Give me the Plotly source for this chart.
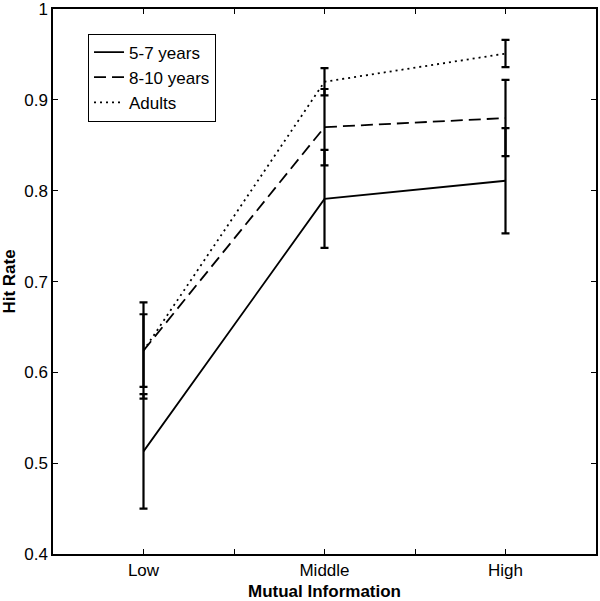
import plotly.graph_objects as go

categories = ["Low", "Middle", "High"]
x_pos = [1, 2, 3]
series_names = ["5-7 years", "8-10 years", "Adults"]
hit_5_7 = [0.513, 0.791, 0.811]
err_5_7 = [0.063, 0.054, 0.058]
hit_8_10 = [0.624, 0.870, 0.880]
err_8_10 = [0.053, 0.042, 0.042]
hit_adults = [0.624, 0.920, 0.951]
err_adults = [0.040, 0.015, 0.015]
dashes = ["solid", "12px,6px", "2px,4px"]

y_ticks = [0.4, 0.5, 0.6, 0.7, 0.8, 0.9, 1.0]
y_ticklabels = ["0.4", "0.5", "0.6", "0.7", "0.8", "0.9", "1"]
x_ticks = [1, 1.5, 2, 2.5, 3]
x_ticklabels = ["Low", "", "Middle", "", "High"]

fig = go.Figure()
for name, ys, es, d in zip(series_names, [hit_5_7, hit_8_10, hit_adults],
                           [err_5_7, err_8_10, err_adults], dashes):
    fig.add_trace(go.Scatter(
        x=x_pos, y=ys, name=name, mode="lines",
        line=dict(color="black", width=1.8, dash=d),
        error_y=dict(type="data", array=es, visible=True, color="black",
                     thickness=2.2, width=4),
    ))

font = "Liberation Sans, Arial, sans-serif"
fig.update_layout(
    width=600, height=601,
    margin=dict(l=53, r=4, t=9, b=47),
    plot_bgcolor="white", paper_bgcolor="white",
    font=dict(family=font, size=17, color="black"),
    showlegend=True,
    legend=dict(x=0.0645, y=0.955, xanchor="left", yanchor="top",
                bordercolor="black", borderwidth=1, bgcolor="white",
                font=dict(size=17, family=font), tracegroupgap=0,
                itemwidth=30),
)
fig.update_xaxes(
    range=[0.5, 3.5], tickvals=x_ticks, ticktext=x_ticklabels,
    ticks="inside", ticklen=5, tickcolor="black", tickwidth=1,
    showline=True, linecolor="black", linewidth=1.5, mirror="ticks",
    showgrid=False, zeroline=False, automargin=False,
    title=dict(text="<b>Mutual Information</b>", font=dict(size=17), standoff=11),
)
fig.update_yaxes(
    range=[0.4, 1.0001], tickvals=y_ticks, ticktext=y_ticklabels,
    ticks="inside", ticklen=5, tickcolor="black", tickwidth=1,
    showline=True, linecolor="black", linewidth=1.5, mirror="ticks",
    showgrid=False, zeroline=False, ticklabeloverflow="allow", automargin=False,
    title=dict(text="<b>Hit Rate</b>", font=dict(size=17), standoff=4),
)
fig.write_html("out.html", config={"displayModeBar": False},
               post_script="document.body.style.margin='0px';document.body.style.overflow='hidden';")
